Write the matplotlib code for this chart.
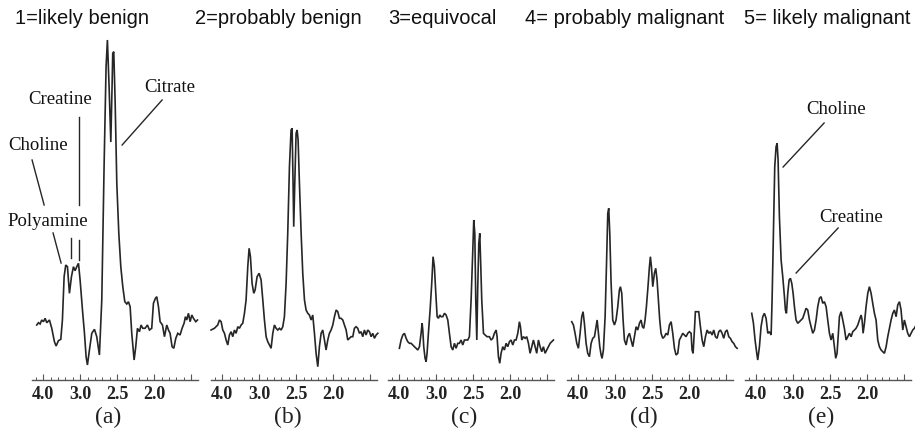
import matplotlib
matplotlib.use("Agg")
import matplotlib.pyplot as plt
from matplotlib.ticker import MultipleLocator

# ---------------- data (chemical shift, ppm  /  signal intensity, a.u.) ----------------
ppm_a = [3.586,3.563,3.541,3.518,3.495,3.473,3.450,3.414,3.383,3.347,3.324,3.293,3.261,3.239,3.216,
         3.194,3.171,3.144,3.117,3.090,3.068,3.045,3.022,3.000,2.968,2.941,2.919,2.901,2.874,2.842,
         2.806,2.775,2.739,2.707,2.676,2.649,2.631,2.608,2.585,2.567,2.559,2.545,2.527,2.504,2.477,
         2.450,2.423,2.396,2.369,2.347,2.324,2.302,2.270,2.248,2.225,2.198,2.176,2.153,2.122,2.090,
         2.063,2.032,2.009,1.982,1.964,1.941,1.919,1.887,1.860,1.829,1.806,1.784,1.757,1.734,1.707,
         1.680,1.649,1.622,1.595,1.577,1.559,1.536,1.513,1.491,1.468,1.437,1.414]
int_a = [55,57.3,56,60,58.3,61.7,57.3,60,51.7,38.3,34,39.3,40.7,60,103.3,
         115,113.3,86.7,103.3,113.3,109.3,113.3,116.7,100,70,46.7,23.3,15,30,46.7,
         50.7,43.3,25,80,213.3,313.3,340,293,238,297,326.7,328.3,280,196.7,146.7,
         113.3,93.3,78.3,76,78.3,73.3,46.7,20,33.3,51.7,48.3,55,51.7,51.7,55,
         50,51.7,76.7,81.7,83.3,73.3,58.3,55,43.3,55,50,46.7,33.3,31.7,41.7,
         46.7,45,51.7,56.7,63.3,60,66.7,58.3,65,61.7,58.3,60]

ppm_b = [3.649,3.604,3.559,3.536,3.513,3.491,3.468,3.446,3.423,3.401,3.378,3.356,3.333,3.311,3.288,
         3.266,3.243,3.221,3.198,3.176,3.153,3.135,3.117,3.095,3.072,3.054,3.027,3.000,2.973,2.950,
         2.928,2.905,2.883,2.860,2.838,2.815,2.793,2.770,2.748,2.725,2.703,2.680,2.658,2.635,2.613,
         2.590,2.568,2.554,2.541,2.532,2.518,2.500,2.486,2.473,2.455,2.432,2.410,2.387,2.365,2.342,
         2.320,2.297,2.275,2.252,2.230,2.207,2.185,2.162,2.140,2.117,2.095,2.072,2.050,2.027,2.004,
         1.982,1.959,1.937,1.914,1.892,1.869,1.847,1.824,1.802,1.779,1.757,1.734,1.712,1.689,1.667,
         1.644,1.622,1.599,1.577,1.554,1.532,1.509,1.486,1.464,1.441,1.419,1.396]
int_b = [50,51.7,55,60,58.3,50,46.7,40,35,45,48.3,43.3,50,46.7,53.3,
         51.7,55,56.7,66.7,80,113.3,131.7,123.3,96.7,86.7,90,103.3,106.7,100,80,
         60,43.3,38.3,35,31.7,46.7,55,51.7,50,51.7,50,53.3,63.3,96.7,146.7,
         213.3,250,251.7,196.7,153.3,196.7,246.7,250,240,196.7,146.7,106.7,80,70,66.7,
         65,60,65,46.7,26.7,13.3,33.3,46.7,50,40,30,40,46.7,50,55,
         63.3,70,68.3,61.7,61.7,60,55,50,40,41.7,43.3,43.3,51.7,53.3,51.7,
         46.7,48.3,43.3,50,45,50,48.3,43.3,46.7,41.7,45,46.7]

ppm_c = [3.496,3.473,3.450,3.428,3.405,3.383,3.360,3.338,3.315,3.293,3.270,3.248,3.225,
         3.203,3.189,3.180,3.167,3.149,3.135,3.122,3.104,3.081,3.059,3.041,3.023,3.004,2.986,2.968,2.950,2.932,
         2.910,2.887,2.865,2.842,2.820,2.797,2.775,2.752,2.730,2.707,2.685,2.662,2.640,2.617,2.595,2.572,2.550,
         2.527,2.504,2.491,2.477,2.464,2.450,2.437,2.423,2.410,2.396,2.383,2.360,2.338,2.311,2.279,
         2.257,2.234,2.212,2.189,2.176,2.158,2.140,2.122,
         2.099,2.077,2.054,2.032,2.009,1.987,1.964,1.941,1.919,1.896,
         1.874,1.860,1.842,1.820,1.797,1.775,
         1.752,1.730,1.707,1.685,1.662,1.640,1.617,1.595,1.572,1.550,1.527,1.505,1.482,1.459,1.437,1.414]
int_c = [31.7,40,45,46.7,41.7,38.3,36.7,36.7,35,33.3,31.7,30,33.3,
         46.7,56.7,50,33.3,21.7,18.3,26.7,46.7,70,96.7,123.3,113.3,86.7,63.3,61.7,65,63.3,
         63.3,66.7,65,60,46.7,33.3,30,36.7,31.7,36.7,36.7,40,35,40,40,40,43.3,
         80,130,160,146.7,80,40,93.3,136.7,146.7,113.3,80,46.7,45,43.3,43.3,
         40,41.7,46.7,50,43.3,23.3,16.7,26.7,
         33.3,30,36.7,33.3,38.3,40,35,40,40,46.7,
         58.3,53.3,40,43.3,41.7,43.3,
         36.7,26.7,33.3,40,33.3,26.7,40,33.3,28.3,33.3,26.7,30,33.3,36.7,38.3,40]

ppm_d = [3.586,3.563,3.541,3.518,3.496,3.473,3.451,3.433,3.415,3.392,3.370,3.347,3.324,3.302,3.279,
         3.257,3.243,3.225,3.207,3.189,3.176,3.158,3.135,3.117,3.099,3.086,3.072,3.054,3.032,3.009,
         2.987,2.964,2.942,2.928,2.910,2.892,2.874,2.851,2.829,2.806,2.784,2.761,2.739,2.716,2.694,
         2.671,2.649,2.631,2.613,2.595,2.577,2.559,2.536,2.523,2.509,2.491,2.469,2.451,2.433,2.415,
         2.397,2.379,2.356,2.333,2.311,2.288,2.266,2.243,2.221,2.198,2.176,2.153,2.131,2.108,2.086,
         2.063,2.041,2.018,1.996,1.973,1.960,1.946,1.928,1.915,1.892,1.870,1.847,1.824,1.802,1.779,
         1.757,1.734,1.712,1.689,1.667,1.644,1.622,1.599,1.577,1.554,1.532,1.509,1.487,1.464,1.442,
         1.419,1.397,1.374,1.351]
int_d = [58.3,55,46.7,36.7,31.7,46.7,63.3,68.3,56.7,36.7,26.7,23.3,36.7,41.7,43.3,
         53.3,60,46.7,33.3,25,21.7,30,63.3,113.3,166.7,171.7,146.7,96.7,60,55,
         60,73.3,90,93.3,86.7,60,40,35,43.3,46.7,40,33.3,43.3,53.3,50,
         56.7,60,53.3,51.7,60,73.3,90,113.3,123.3,113.3,93.3,106.7,111.7,100,80,
         60,46.7,41.7,43.3,46.7,45,55,58.3,46.7,31.7,25,26.7,40,43.3,46.7,
         45,43.3,46.7,48.3,46.7,30,26.7,50,68.3,68.3,68.3,53.3,40,33.3,43.3,
         50,46.7,48.3,45,50,43.3,41.7,48.3,50,46.7,41.7,48.3,50,43.3,41.7,
         38.3,36.7,33.3,31.7]

ppm_e = [3.559,3.536,3.514,3.491,3.478,3.455,3.433,3.410,3.388,3.365,3.342,3.320,3.297,3.284,3.266,
         3.248,3.230,3.216,3.203,3.185,3.162,3.140,3.117,3.104,3.090,3.072,3.054,3.036,3.018,3.000,
         2.982,2.960,2.937,2.915,2.892,2.870,2.847,2.825,2.802,2.779,2.757,2.734,2.712,2.689,2.667,
         2.644,2.622,2.599,2.577,2.554,2.532,2.509,2.487,2.464,2.442,2.424,2.406,2.388,2.374,2.352,
         2.329,2.307,2.284,2.261,2.239,2.216,2.194,2.171,2.149,2.126,2.104,2.081,2.068,2.054,2.036,
         2.014,1.991,1.969,1.946,1.924,1.901,1.879,1.856,1.834,1.811,1.788,1.766,1.743,1.721,1.698,
         1.676,1.653,1.631,1.608,1.586,1.563,1.541,1.518,1.496,1.473,1.451,1.428,1.406,1.383,1.361,
         1.338]
int_e = [66.7,56.7,40,26.7,20,33.3,53.3,63.3,66.7,61.7,46.7,48.3,45,80,146.7,
         213.3,233.3,236.7,220,163.3,120,103.3,83.3,70,66.7,86.7,100,101.7,96.7,86.7,
         73.3,60,56.7,58.3,60,61.7,66.7,71.7,70,60,53.3,46.7,50,60,73.3,
         81.7,83.3,76.7,78.3,73.3,60,46.7,40,46.7,33.3,21.7,26.7,46.7,63.3,68.3,
         60,51.7,40,43.3,46.7,43.3,48.3,50,51.7,55,60,65,60,46.7,56.7,
         73.3,86.7,93.3,86.7,76.7,66.7,60,40,33.3,30,28.3,26.7,33.3,43.3,51.7,
         60,66.7,70,63.3,75,78.3,70,50,60,53.3,46.7,43.3,46.7,50,51.7,
         55]

spectra = [(ppm_a, int_a), (ppm_b, int_b), (ppm_c, int_c), (ppm_d, int_d), (ppm_e, int_e)]
panel_letters = ["(a)", "(b)", "(c)", "(d)", "(e)"]
titles = ["1=likely benign", "2=probably benign", "3=equivocal",
          "4= probably malignant", "5= likely malignant"]
tick_pos = [3.5, 3.0, 2.5, 2.0, 1.5]
tick_labels = ["4.0", "3.0", "2.5", "2.0", ""]

# ---------------- layout ----------------
W, H = 915, 434
fig = plt.figure(figsize=(W / 100, H / 100), dpi=100)
fig.patch.set_facecolor("white")

panel_left_px = [32, 211, 388, 567, 745]
title_x_px = [82, 278, 442, 625, 827]
ax_w_px = 166
bottom_px, top_px = 380, 30
LINE = "#262626"
SERIF = ["Liberation Serif", "DejaVu Serif"]
SANS = ["Liberation Sans", "DejaVu Sans"]

axes = []
for i, (ppm, inten) in enumerate(spectra):
    ax = fig.add_axes([panel_left_px[i] / W, (H - bottom_px) / H,
                       ax_w_px / W, (bottom_px - top_px) / H])
    ax.plot(ppm, inten, color=LINE, lw=1.2, clip_on=False, solid_joinstyle="miter")
    ax.set_xlim(3.65, 3.65 - ax_w_px / 74.0)
    ax.set_ylim(0, bottom_px - top_px)
    for s in ["top", "right", "left"]:
        ax.spines[s].set_visible(False)
    ax.spines["bottom"].set_color("#555555")
    ax.spines["bottom"].set_linewidth(1.0)
    ax.set_yticks([])
    ax.set_xticks(tick_pos)
    ax.set_xticklabels(tick_labels, fontfamily=SERIF, fontweight="bold",
                       fontsize=13, color="#222222")
    ax.xaxis.set_minor_locator(MultipleLocator(0.1))
    ax.tick_params(axis="x", which="major", direction="in", length=4.5,
                   width=0.8, color="#555555", pad=4.5)
    ax.tick_params(axis="x", which="minor", direction="in", length=2.5,
                   width=0.7, color="#555555")
    ax.patch.set_alpha(0)
    ax.text(0.46, -0.106, panel_letters[i], transform=ax.transAxes,
            ha="center", va="center", fontfamily=SERIF, fontsize=17, color="#222222")
    fig.text(title_x_px[i] / W, 1 - 19 / H, titles[i], ha="center", va="center",
             fontfamily=SANS, fontsize=14.5, color="#111111")
    axes.append(ax)

# ---------------- annotations ----------------
ann_kw = dict(fontfamily=SERIF, fontsize=13.5, color="#111111", ha="center", va="center")
lkw = dict(color=LINE, lw=1.0, clip_on=False)

ax = axes[0]
ax.text(3.27, 280, "Creatine", **ann_kw)
ax.plot([3.014, 3.014], [263, 175], **lkw)
ax.text(3.568, 235, "Choline", **ann_kw)
ax.plot([3.649, 3.486], [220, 175], **lkw)
ax.text(3.432, 158, "Polyamine", **ann_kw)
ax.plot([3.365, 3.257], [147, 117], **lkw)
ax.plot([3.122, 3.122], [142, 122], **lkw)
ax.plot([3.014, 3.014], [140, 120], **lkw)
ax.text(1.784, 292, "Citrate", **ann_kw)
ax.plot([1.892, 2.432], [280, 235], **lkw)

ax = axes[4]
ax.text(2.419, 270, "Choline", **ann_kw)
ax.plot([2.581, 3.135], [257, 213], **lkw)
ax.text(2.216, 163, "Creatine", **ann_kw)
ax.plot([2.392, 2.959], [152, 107], **lkw)

fig.savefig("out.png", dpi=100, facecolor="white")
